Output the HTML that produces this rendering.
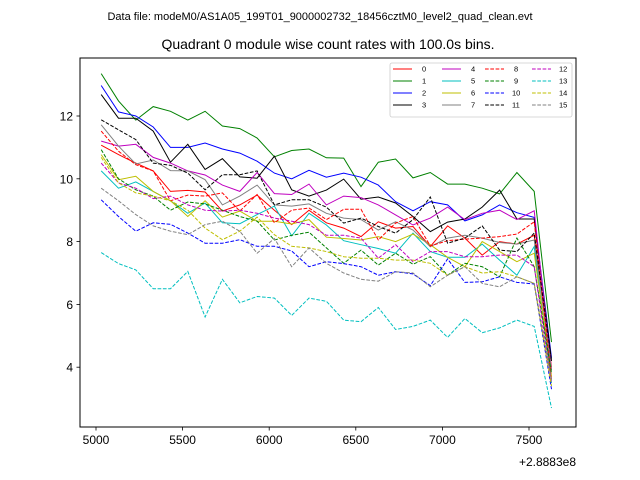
<!DOCTYPE html>
<html><head><meta charset="utf-8"><style>
body{margin:0;background:#fff}
svg{display:block;font-family:"Liberation Sans","DejaVu Sans",sans-serif}
</style></head><body>
<svg id="chart" width="640" height="480" viewBox="0 0 640 480">
<rect width="640" height="480" fill="#fff"/>
<text x="320" y="20" font-size="11" text-anchor="middle">Data file: modeM0/AS1A05_199T01_9000002732_18456cztM0_level2_quad_clean.evt</text>
<text x="328" y="49" font-size="14" text-anchor="middle">Quadrant 0 module wise count rates with 100.0s bins.</text>
<g id="ticks"></g>
<g id="series"></g>
<rect x="80" y="58" width="496" height="369" fill="none" stroke="#000" stroke-width="1"/>
<text x="576" y="466" font-size="12" text-anchor="end">+2.8883e8</text>
<g id="legend"></g>
</svg>
<script>
const times=[5030,5130,5230,5330,5430,5530,5630,5730,5830,5930,6030,6130,6230,6330,6430,6530,6630,6730,6830,6930,7030,7130,7230,7330,7430,7530,7630];
const xTicks=[5000,5500,6000,6500,7000,7500];
const yTicks=[4,6,8,10,12];
const s0=[11.07,10.77,10.5,10.25,9.6,9.63,9.58,8.97,9.17,9.48,9.0,8.54,9.0,8.6,8.43,8.16,8.63,8.43,8.48,7.84,8.5,8.11,7.57,8.0,7.92,8.2,4.0];
const s1=[13.35,12.48,11.87,12.3,12.15,11.87,12.15,11.68,11.6,11.3,10.7,10.9,10.95,10.67,10.66,9.75,10.53,10.63,10.03,10.2,9.83,9.83,9.7,9.52,10.2,9.6,4.8];
const s2=[12.97,12.13,12.0,11.65,11.0,11.0,11.14,10.95,10.82,10.56,10.18,10.0,10.27,10.05,10.18,10.05,9.8,9.27,8.98,9.27,9.17,8.66,8.85,9.17,8.92,8.77,4.3];
const s3=[12.68,11.93,11.93,11.52,10.53,11.1,10.3,10.64,10.06,10.02,10.72,9.65,9.45,9.64,9.99,9.35,9.42,9.23,8.8,8.32,8.62,8.72,9.1,9.64,8.72,8.72,4.2];
const s4=[11.2,11.04,11.1,10.68,10.5,10.25,10.12,9.8,9.6,10.2,9.53,9.5,9.83,9.17,9.45,9.4,9.17,8.85,8.53,8.75,9.1,8.7,8.9,9.0,8.7,8.98,3.9];
const s5=[10.25,9.7,9.9,9.6,9.3,8.9,9.23,8.6,8.57,8.86,9.13,8.18,8.9,8.53,8.03,7.9,7.78,7.63,8.27,7.68,7.5,7.5,7.92,7.41,6.93,7.84,3.5];
const s6=[10.77,9.97,10.08,9.6,9.3,8.8,9.3,8.78,8.97,8.65,8.65,8.56,8.7,8.14,8.1,8.05,8.16,8.0,8.24,7.9,7.5,7.2,8.0,7.68,7.36,7.63,3.7];
const s7=[11.72,11.04,10.47,10.6,10.26,10.25,9.97,9.17,9.45,9.8,9.17,9.13,9.2,8.9,8.75,8.7,8.37,8.63,8.37,7.84,8.11,8.2,8.11,7.97,7.92,8.05,3.9];
const s8=[11.52,10.88,10.45,10.25,9.3,9.48,9.45,9.55,8.97,9.5,8.6,9.0,9.07,8.7,9.03,9.03,8.05,8.59,8.8,7.86,8.03,8.08,8.11,8.16,8.24,8.63,3.6];
const s9=[10.93,10.0,9.65,9.45,9.0,9.26,9.2,9.0,8.8,8.65,8.05,8.2,8.3,7.8,7.31,7.73,7.25,7.63,7.28,7.52,6.93,7.31,7.2,6.88,8.11,7.2,3.8];
const s10=[9.33,8.8,8.33,8.6,8.55,8.27,7.95,7.95,8.06,7.85,7.85,7.7,7.2,7.36,7.3,7.2,6.93,7.04,6.97,6.6,7.45,6.7,6.72,6.88,6.7,6.65,3.3];
const s11=[11.88,11.56,11.25,10.5,10.43,10.18,9.65,10.13,10.13,10.25,9.17,9.33,9.33,9.1,8.59,8.75,8.48,8.27,8.7,9.42,7.95,8.11,8.5,7.73,7.68,8.27,4.2];
const s12=[10.5,9.87,9.7,9.37,9.45,9.17,9.0,8.97,9.0,8.9,8.75,8.65,8.54,8.2,8.2,8.11,7.47,7.9,7.36,7.68,7.68,7.52,7.52,7.57,7.57,7.2,3.5];
const s13=[7.65,7.3,7.1,6.5,6.5,7.05,5.6,6.8,6.05,6.25,6.2,5.65,6.2,6.1,5.5,5.45,5.9,5.2,5.3,5.5,4.95,5.55,5.1,5.25,5.5,5.3,2.7];
const s14=[10.68,9.87,9.55,9.45,9.3,9.0,8.43,8.06,8.33,8.78,8.22,7.85,7.8,7.68,7.52,7.47,7.47,7.41,7.41,7.31,6.93,7.2,7.0,7.04,6.88,6.67,3.4];
const s15=[9.7,9.3,8.86,8.5,8.33,8.22,8.54,8.65,8.33,7.63,8.1,7.2,7.8,7.31,7.0,6.8,6.74,7.04,7.0,6.56,6.93,7.2,6.67,6.56,6.88,6.67,3.6];
const seriesList=[s0,s1,s2,s3,s4,s5,s6,s7,s8,s9,s10,s11,s12,s13,s14,s15];
const colors=["#ff0000","#008000","#0000ff","#000000","#bf00bf","#00bfbf","#bfbf00","#808080"];
const NS="http://www.w3.org/2000/svg";
const X=v=>96+(v-5000)*0.1732;
const Y=v=>116+(12-v)*31.4;
function mk(tag,attrs,parent){const e=document.createElementNS(NS,tag);for(const k in attrs)e.setAttribute(k,attrs[k]);parent.appendChild(e);return e;}
const tg=document.getElementById('ticks');
xTicks.forEach(t=>{
  const l=mk('line',{x1:X(t),x2:X(t),y1:427,y2:430.5,stroke:'#000','stroke-width':0.8},tg);
  
  
  const tx=mk('text',{x:X(t),y:444,'font-size':12,'text-anchor':'middle'},tg);
  tx.textContent=t;
  
  
});
yTicks.forEach(t=>{
  const l=mk('line',{x1:76.5,x2:80,y1:Y(t),y2:Y(t),stroke:'#000','stroke-width':0.8},tg);
  
  
  const tx=mk('text',{x:73,y:Y(t)+4.5,'font-size':12,'text-anchor':'end'},tg);
  tx.textContent=t;
  
  
});
const sg=document.getElementById('series');
seriesList.forEach((s,k)=>{
  const pts=s.map((v,i)=>X(times[i]).toFixed(1)+','+Y(v).toFixed(1)).join(' ');
  const a={points:pts,fill:'none',stroke:colors[k%8],'stroke-width':1};
  if(k>=8)a['stroke-dasharray']='3.7,1.6';
  const p=mk('polyline',a,sg);
  
  
});
const lg=document.getElementById('legend');
const box=mk('rect',{x:390,y:63,width:182,height:54,fill:'#fff',stroke:'#ccc','stroke-width':0.8,rx:2},lg);


const colX=[393,442,485,532];
for(let k=0;k<16;k++){
  const c=Math.floor(k/4),r=k%4,y=69+r*12;
  const a={x1:colX[c],x2:colX[c]+19,y1:y,y2:y,stroke:colors[k%8],'stroke-width':1};
  if(k>=8)a['stroke-dasharray']='3.7,1.6';
  const l=mk('line',a,lg);
  
  
  const t=mk('text',{x:colX[c]+(k>=10?27:29),y:y+2.5,'font-size':7.5},lg);
  t.textContent=k;
  
  
}
</script>
</body></html>
